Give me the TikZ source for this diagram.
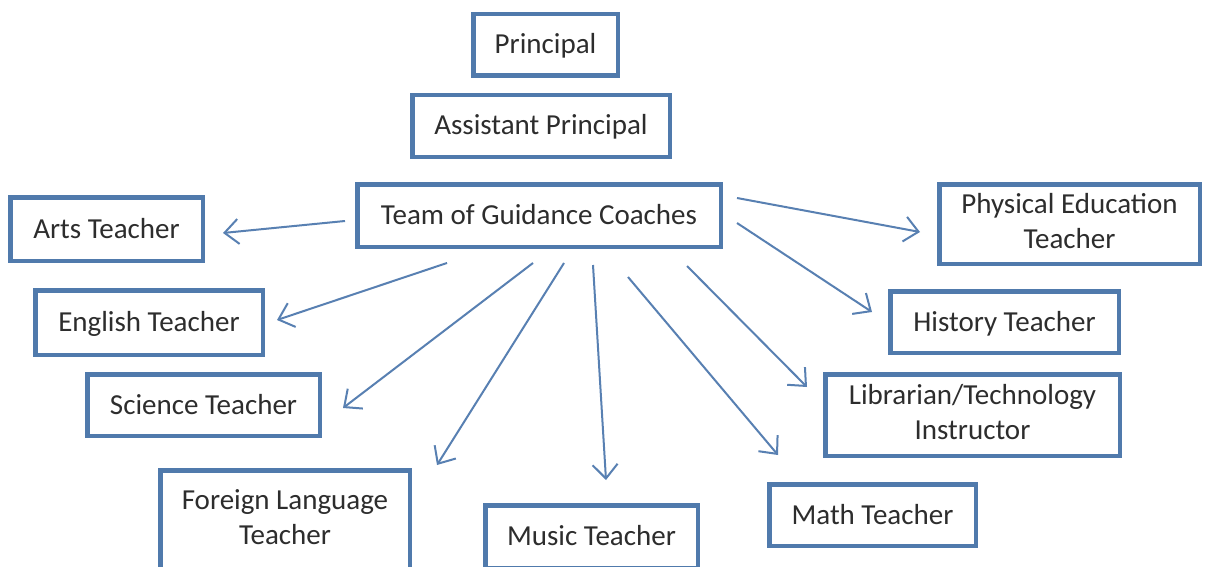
\documentclass[tikz,border=0pt]{standalone}
\usepackage{fontspec}
\setmainfont{Carlito}
\usetikzlibrary{arrows.meta,calc}
\definecolor{boxline}{RGB}{80,122,172}
\definecolor{arrowline}{RGB}{88,128,178}
\definecolor{labeltext}{RGB}{45,45,45}
\begin{document}
\begin{tikzpicture}[x=1pt,y=-1pt,
  role/.style={draw=boxline, line width=4.5pt, fill=white, rectangle,
    inner sep=0pt, text=labeltext, align=center,
    font=\fontsize{29}{35}\selectfont, text height=21pt, text depth=3pt},
  tworole/.style={role, text height=55pt, text depth=7pt},
  link/.style={draw=arrowline, line width=2pt,
    -{Straight Barb[length=14pt,width=25pt,line width=2pt]}}]
\useasboundingbox[fill=white] (0,0) rectangle (1207,567);

% leadership column
\node[role, minimum width=144.5pt, minimum height=61.5pt] (principal) at (545.5,45) {Principal};
\node[role, minimum width=257.5pt, minimum height=61.5pt] (assistant) at (541,126) {Assistant Principal};
\node[role, minimum width=363.5pt, minimum height=62.5pt] (team) at (539,215.5) {Team of Guidance Coaches};

% teachers, left side
\node[role, minimum width=192.5pt, minimum height=63.5pt] (arts) at (106.5,229) {Arts Teacher};
\node[role, minimum width=227.5pt, minimum height=64.5pt] (english) at (149,322.5) {English Teacher};
\node[role, minimum width=232.5pt, minimum height=61.5pt] (science) at (203.5,405) {Science Teacher};
\node[tworole, minimum width=249.5pt, minimum height=99.5pt] (foreign) at (285,520) {Foreign Language\\Teacher};

% teachers, bottom and right side
\node[role, minimum width=212.5pt, minimum height=62.5pt] (music) at (591.5,536.5) {Music Teacher};
\node[role, minimum width=206.5pt, minimum height=61.5pt] (math) at (872.5,515) {Math Teacher};
\node[tworole, minimum width=294.5pt, minimum height=81.5pt] (librarian) at (972.5,415) {Librarian/Technology\\Instructor};
\node[role, minimum width=228.5pt, minimum height=61.5pt] (history) at (1004.5,322) {History Teacher};
\node[tworole, minimum width=260.5pt, minimum height=79.5pt] (physed) at (1069.5,224) {Physical Education\\Teacher};

% arrows fanning out from the coaches
\draw[link] ($(team.center)+(-194,5.5)$) -- ($(arts.center)+(116.5,4)$);
\draw[link] ($(team.center)+(-92,47.5)$) -- ($(english.center)+(128,-2.5)$);
\draw[link] ($(team.center)+(-6,47.5)$) -- ($(science.center)+(139.5,3)$);
\draw[link] ($(team.center)+(25,47.5)$) -- ($(foreign.center)+(152,-55)$);
\draw[link] ($(team.center)+(54,49.5)$) -- ($(music.center)+(14.5,-56.5)$);
\draw[link] ($(team.center)+(89,61.5)$) -- ($(math.center)+(-94.5,-60)$);
\draw[link] ($(team.center)+(148,50.5)$) -- ($(librarian.center)+(-165.5,-28)$);
\draw[link] ($(team.center)+(198,7.5)$) -- ($(history.center)+(-132.5,-10)$);
\draw[link] ($(team.center)+(198,-17.5)$) -- ($(physed.center)+(-149.5,8)$);
\end{tikzpicture}
\end{document}
